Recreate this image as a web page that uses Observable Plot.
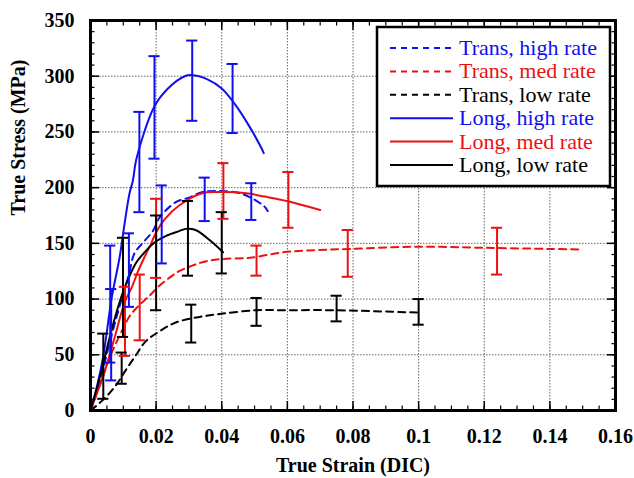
<!DOCTYPE html>
<html><head><meta charset="utf-8">
<script src="https://cdn.jsdelivr.net/npm/d3@7"></script>
<script src="https://cdn.jsdelivr.net/npm/@observablehq/plot@0.6"></script>
<style>
body{margin:0;background:#fff}
#chart{position:relative;width:634px;height:478px}
#chart svg, #chart svg text{font-family:"Liberation Serif","Times New Roman",Times,serif !important}
</style>
</head><body><div id="chart"></div>
<script>
// ---------- data ----------
const seriesNames = ["Trans, high rate","Trans, med rate","Trans, low rate","Long, high rate","Long, med rate","Long, low rate"];

const transHighStrain = [0,0.003,0.0063,0.009,0.0117,0.0134,0.0161,0.019,0.021,0.026,0.030,0.034,0.0394,0.0455,0.0495,0.053,0.054];
const transHighStress = [0,28,66,95,122,141,151,161,173,187,191,196,197,195,190,183,179];

const transMedStrain = [0,0.0034,0.0059,0.0085,0.0105,0.012,0.015,0.018,0.021,0.024,0.027,0.031,0.0353,0.0404,0.0486,0.0587,0.069,0.079,0.0995,0.12,0.14,0.149];
const transMedStress = [0,27,48,65,77,85,95,103,112,119,125,130,134,136,137,142,144,145,147,146,145,144.5];

const transLowStrain = [0,0.0040,0.0076,0.0107,0.0137,0.0168,0.021,0.026,0.0333,0.0404,0.0506,0.0587,0.074,0.0995,0.101];
const transLowStress = [0,10,22,36,49,62,71,79,84,87,90,90,90,88,88];

const longHighStrain = [0,0.002,0.0039,0.0064,0.0089,0.0104,0.0119,0.0129,0.014,0.0195,0.0236,0.0287,0.0307,0.0358,0.040,0.044,0.048,0.052,0.0528];
const longHighStress = [0,22,49,100,138,168,195,206,226,273,289,300,301,297,289,275,257,236,231];

const longMedStrain = [0,0.0044,0.0074,0.0105,0.0125,0.0145,0.0165,0.0185,0.020,0.0227,0.027,0.034,0.040,0.0475,0.053,0.0598,0.065,0.070];
const longMedStress = [0,36,66,98,110,125,138,150,160,172,184,195,196,195,192,188,184,180];

const longLowStrain = [0,0.0034,0.0064,0.0095,0.0118,0.014,0.0165,0.0196,0.0232,0.027,0.029,0.032,0.0363,0.0404];
const longLowStress = [0,36,72,103,120,133,142,151,157,161,163,162,153,142];

// error bars: series index, strain, low, high
const errSeries = [3,3,3,3,3, 0,0,0,0,0, 4,4,4,4, 1,1,1,1, 5,5,5,5,5, 2,2,2,2,2];
const errStrain = [0.006,0.0149,0.0195,0.031,0.0433, 0.0063,0.0117,0.0217,0.0348,0.049, 0.0105,0.020,0.0405,0.0603, 0.015,0.0506,0.0784,0.1239, 0.0039,0.0099,0.020,0.0297,0.040, 0.0095,0.0307,0.0506,0.075,0.100];
const errLow    = [43,178,226,260,249, 27,93,132,170,171, 49,119,172,164, 63,121,120,122, 10.5,66,90,121,123, 24,61,76,80,77];
const errHigh   = [148,268,318,332,311, 109,159,202,209,204, 111,190,222,214, 122,148,162,164, 69,155,175,188,178, 52,95,101,103,100];

const xTicks = [0,0.02,0.04,0.06,0.08,0.1,0.12,0.14,0.16];
const xTickLabels = ["0","0.02","0.04","0.06","0.08","0.1","0.12","0.14","0.16"];
const yTicks = [0,50,100,150,200,250,300,350];
const yTickLabels = ["0","50","100","150","200","250","300","350"];
const xMinor = d3.range(0,33).map(i => i*0.005);
const yMinor = d3.range(0,36).map(i => i*10);
const xTitle = "True Strain (DIC)";
const yTitle = "True Stress (MPa)";

// ---------- styles ----------
const colors = ["#1010ee","#ee1010","#000000","#1010ee","#ee1010","#000000"];
const dashed = [true,true,true,false,false,false];
const FONT = "'Liberation Serif','Times New Roman',Times,serif";

const seriesData = [
  [transHighStrain, transHighStress],
  [transMedStrain, transMedStress],
  [transLowStrain, transLowStress],
  [longHighStrain, longHighStress],
  [longMedStrain, longMedStress],
  [longLowStrain, longLowStress]
];

const lineMarks = seriesData.map(([xs, ys], k) =>
  Plot.line(xs.map((x, i) => ({strain: x, stress: ys[i]})), {
    x: "strain", y: "stress", stroke: colors[k], strokeWidth: 2,
    strokeDasharray: dashed[k] ? "7,5" : null, curve: "catmull-rom"
  })
);

const errs = errStrain.map((x, i) => ({s: errSeries[i], strain: x, lo: errLow[i], hi: errHigh[i]}));
const caps = errs.flatMap(d => [{s: d.s, strain: d.strain, v: d.lo}, {s: d.s, strain: d.strain, v: d.hi}]);
const capHalf = 0.0017;

const tickOpts = {fill: "none", label: null, stroke: "black"};

const chart = Plot.plot({
  width: 634, height: 478,
  marginLeft: 90, marginRight: 19, marginTop: 20, marginBottom: 68,
  style: {fontFamily: FONT, background: "white", overflow: "visible"},
  x: {domain: [0, 0.16]},
  y: {domain: [0, 350]},
  marks: [
    Plot.gridX(xTicks.slice(1, -1), {stroke: "#666", strokeOpacity: 1, strokeWidth: 1, strokeDasharray: "1.5,1.5"}),
    Plot.gridY(yTicks.slice(1, -1), {stroke: "#666", strokeOpacity: 1, strokeWidth: 1, strokeDasharray: "1.5,1.5"}),
    ...lineMarks,
    Plot.ruleX(errs, {x: "strain", y1: "lo", y2: "hi", stroke: d => colors[d.s], strokeWidth: 2}),
    Plot.ruleY(caps, {y: "v", x1: d => d.strain - capHalf, x2: d => d.strain + capHalf, stroke: d => colors[d.s], strokeWidth: 2}),
    Plot.frame({stroke: "black", strokeWidth: 3}),
    Plot.axisX(xTicks, {anchor: "bottom", tickSize: -9, strokeWidth: 1.5, ...tickOpts}),
    Plot.axisX(xTicks, {anchor: "top", tickSize: -9, strokeWidth: 1.5, ...tickOpts}),
    Plot.axisX(xMinor, {anchor: "bottom", tickSize: -4.5, strokeWidth: 1.2, ...tickOpts}),
    Plot.axisX(xMinor, {anchor: "top", tickSize: -4.5, strokeWidth: 1.2, ...tickOpts}),
    Plot.axisY(yTicks, {anchor: "left", tickSize: -9, strokeWidth: 1.5, ...tickOpts}),
    Plot.axisY(yTicks, {anchor: "right", tickSize: -9, strokeWidth: 1.5, ...tickOpts}),
    Plot.axisY(yMinor, {anchor: "left", tickSize: -4.5, strokeWidth: 1.2, ...tickOpts}),
    Plot.axisY(yMinor, {anchor: "right", tickSize: -4.5, strokeWidth: 1.2, ...tickOpts}),
    Plot.axisX(xTicks, {anchor: "bottom", tickSize: 0, tickPadding: 18, label: null, fontSize: 20, fontWeight: "bold", fill: "black",
      tickFormat: d => xTickLabels[xTicks.indexOf(d)]}),
    Plot.axisY(yTicks, {anchor: "left", tickSize: 0, tickPadding: 16, label: null, fontSize: 20, fontWeight: "bold", fill: "black",
      tickFormat: d => yTickLabels[yTicks.indexOf(d)]}),
    Plot.text([xTitle], {frameAnchor: "bottom", dy: 55, text: d => d, fontSize: 20, fontWeight: "bold", fill: "black", lineAnchor: "middle"}),
    Plot.text([yTitle], {frameAnchor: "left", dx: -72, rotate: -90, text: d => d, fontSize: 20, fontWeight: "bold", fill: "black", lineAnchor: "middle"})
  ]
});

// ---------- legend ----------
const svg = d3.select(chart);
const lg = svg.append("g").attr("class", "legend").attr("text-anchor", "start");
lg.append("rect").attr("x", 377).attr("y", 27).attr("width", 233).attr("height", 159)
  .attr("fill", "white").attr("stroke", "black").attr("stroke-width", 2.5);
seriesNames.forEach((name, k) => {
  const y = 48 + k * 23.4;
  lg.append("line").attr("x1", 390).attr("x2", 453).attr("y1", y).attr("y2", y)
    .attr("stroke", colors[k]).attr("stroke-width", 2)
    .attr("stroke-dasharray", dashed[k] ? "6,5" : null);
  lg.append("text").attr("x", 459).attr("y", y).attr("dy", "0.32em")
    .attr("text-anchor", "start")
    .attr("fill", colors[k]).attr("font-size", 22)
    .text(name);
});

document.getElementById("chart").appendChild(chart);
</script>
</body></html>
